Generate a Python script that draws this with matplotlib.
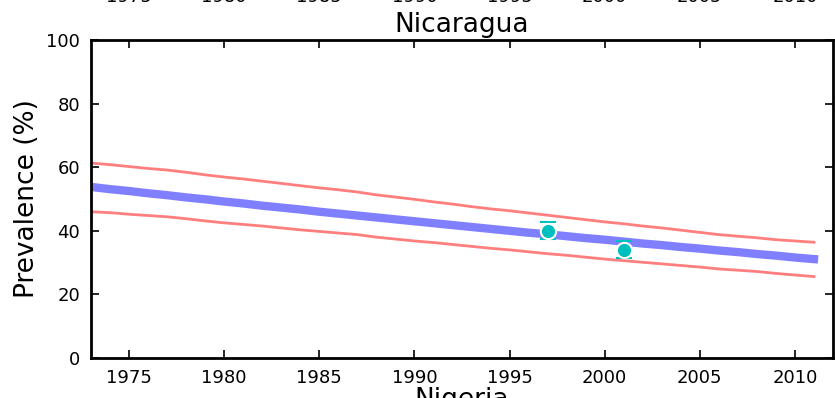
import matplotlib
matplotlib.use('Agg')
import matplotlib.pyplot as plt
import numpy as np

# model fit (posterior mean and 95% band), one value per year
years = list(range(1973, 2012))
mean_vals = [53.8, 53.1, 52.5, 51.8, 51.2, 50.5, 49.9, 49.2, 48.6, 47.9,
             47.3, 46.7, 46.0, 45.4, 44.8, 44.2, 43.6, 43.0, 42.4, 41.8,
             41.2, 40.6, 40.0, 39.4, 38.9, 38.3, 37.7, 37.2, 36.6, 36.0,
             35.5, 34.9, 34.4, 33.8, 33.3, 32.7, 32.2, 31.6, 31.1]
upper_vals = [61.3, 60.8, 60.2, 59.6, 59.1, 58.4, 57.6, 56.9, 56.3, 55.6,
              54.9, 54.2, 53.5, 52.9, 52.2, 51.3, 50.6, 49.9, 49.1, 48.4,
              47.6, 46.9, 46.3, 45.6, 44.9, 44.2, 43.5, 42.8, 42.2, 41.5,
              40.9, 40.2, 39.5, 38.8, 38.3, 37.8, 37.2, 36.8, 36.4]
lower_vals = [46.0, 45.7, 45.2, 44.8, 44.4, 43.8, 43.1, 42.5, 42.0, 41.5,
              40.9, 40.3, 39.8, 39.3, 38.8, 38.0, 37.4, 36.8, 36.3, 35.7,
              35.1, 34.5, 34.0, 33.4, 32.8, 32.3, 31.7, 31.1, 30.6, 30.1,
              29.6, 29.1, 28.6, 28.0, 27.6, 27.2, 26.6, 26.1, 25.6]

# survey observations
obs_years = [1997, 2001]
obs_vals = [40.0, 34.0]
obs_err_low = [2.6, 2.7]
obs_err_high = [2.9, 2.7]

tick_years = [1975, 1980, 1985, 1990, 1995, 2000, 2005, 2010]
y_ticks = [0, 20, 40, 60, 80, 100]

fig = plt.figure(figsize=(8.35, 3.98), dpi=100)
W, H = 835.0, 398.0
ax = fig.add_axes([91 / W, (H - 358) / H, 742 / W, 318 / H])

ax.plot(years, upper_vals, color='#ff7f7f', lw=2)
ax.plot(years, lower_vals, color='#ff7f7f', lw=2)
ax.plot(years, mean_vals, color='#7f7fff', lw=6)
ax.errorbar(obs_years, obs_vals, yerr=[obs_err_low, obs_err_high], fmt='o',
            color='#00bfbf', ms=11, mec='white', mew=1.5, ecolor='#00bfbf',
            elinewidth=1.5, capsize=6, capthick=1.5, zorder=5)

ax.set_xlim(1973, 2012)
ax.set_ylim(0, 100)
ax.set_xticks(tick_years)
ax.set_yticks(y_ticks)
ax.tick_params(direction='in', length=6, width=1.2, labelsize=13,
               top=True, right=True, pad=8)
for sp in ax.spines.values():
    sp.set_linewidth(2)

ax.set_title('Nicaragua', fontsize=19)
ax.set_ylabel('Prevalence (%)', fontsize=19)

# neighbouring panels of the tall figure, cut off by the crop
for yr in tick_years:
    xf = (91 + (yr - 1973) * 742 / 39.0) / W
    fig.text(xf, 1 - 2 / H, str(yr), ha='center', va='baseline', fontsize=13)
fig.text(462 / W, (H - 407) / H, 'Nigeria', ha='center', va='baseline', fontsize=19)

fig.savefig('out.png', dpi=100, facecolor='white')
